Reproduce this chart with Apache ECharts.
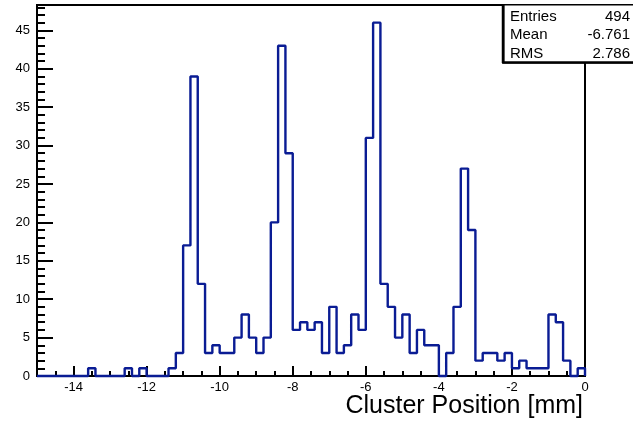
<!DOCTYPE html>
<html>
<head>
<meta charset="utf-8">
<script src="https://cdn.jsdelivr.net/npm/echarts@6/dist/echarts.min.js"></script>
<style>
  html, body { margin: 0; padding: 0; background: #fff; }
</style>
</head>
<body>
<div id="HistChart" style="width: 633px; height: 423px;"></div>
<script>
// histogram: 75 bins of 0.2 mm from -15 to 0
const binLow = -15;
const binWidth = 0.2;
const counts = [
  0, 0, 0, 0, 0, 0, 0, 1, 0, 0,
  0, 0, 1, 0, 1, 0, 0, 0, 1, 3,
  17, 39, 12, 3, 4, 3, 3, 5, 8, 5,
  3, 5, 20, 43, 29, 6, 7, 6, 7, 3,
  9, 3, 4, 8, 6, 31, 46, 12, 9, 5,
  8, 3, 6, 4, 4, 0, 3, 9, 27, 19,
  2, 3, 3, 2, 3, 1, 2, 1, 1, 1,
  8, 7, 2, 0, 1
];
const xTickLabels = [-14, -12, -10, -8, -6, -4, -2, 0];
const yTickLabels = [0, 5, 10, 15, 20, 25, 30, 35, 40, 45];
const statNames = ['Entries', 'Mean', 'RMS'];
const statValues = ['494', '-6.761', '2.786'];

const FONT = 'Liberation Sans';
const plotBox = { left: 37, right: 48, top: 5, bottom: 47 };

// bin left edges with their counts, closed at the upper edge
const stepData = counts.map((c, i) => [+(binLow + i * binWidth).toFixed(2), c]);
stepData.push([0, counts[counts.length - 1]]);
stepData.push([0, 0]);

const chart = echarts.init(document.getElementById('HistChart'));

const statTexts = [];
statNames.forEach((name, i) => {
  statTexts.push({
    type: 'text', left: 510, top: 9 + i * 18.5, z: 110,
    style: { text: name, font: '15px ' + FONT, fill: '#000' }
  });
  statTexts.push({
    type: 'text', right: 3, top: 9 + i * 18.5, z: 110,
    style: { text: statValues[i], font: '15px ' + FONT, fill: '#000', align: 'right' }
  });
});

const option = {
  animation: false,
  grid: [
    Object.assign({ show: true, borderColor: '#000', borderWidth: 2, backgroundColor: '#fff' }, plotBox),
    Object.assign({ show: false }, plotBox)   // only carries the minor ticks
  ],
  title: {
    text: 'Cluster Position [mm]',
    right: 45, top: 389,
    textStyle: { fontFamily: FONT, fontSize: 25, fontWeight: 'normal', color: '#000' }
  },
  xAxis: [
    {
      type: 'value', min: -15, max: 0, gridIndex: 0,
      axisLine: { show: true, onZero: false, lineStyle: { color: '#000', width: 2 } },
      axisTick: { show: true, inside: true, length: 10, customValues: xTickLabels,
        lineStyle: { color: '#000', width: 2 } },
      axisLabel: { customValues: xTickLabels, color: '#000', fontFamily: FONT, fontSize: 13, margin: 5 },
      splitLine: { show: false }
    },
    {
      type: 'value', min: -15, max: 0, interval: 0.5, gridIndex: 1, position: 'bottom',
      axisLine: { show: false, onZero: false },
      axisTick: { show: true, inside: true, length: 5, lineStyle: { color: '#000', width: 2 } },
      axisLabel: { show: false },
      splitLine: { show: false }
    }
  ],
  yAxis: [
    {
      type: 'value', min: 0, max: 48.3, gridIndex: 0,
      axisLine: { show: true, onZero: false, lineStyle: { color: '#000', width: 2 } },
      axisTick: { show: true, inside: true, length: 16, customValues: yTickLabels,
        lineStyle: { color: '#000', width: 2 } },
      axisLabel: { customValues: yTickLabels, color: '#000', fontFamily: FONT, fontSize: 13, margin: 7 },
      splitLine: { show: false }
    },
    {
      type: 'value', min: 0, max: 48.3, interval: 1, gridIndex: 1, position: 'left',
      axisLine: { show: false, onZero: false },
      axisTick: { show: true, inside: true, length: 8, lineStyle: { color: '#000', width: 2 } },
      axisLabel: { show: false },
      splitLine: { show: false }
    }
  ],
  series: [
    {
      name: 'Cluster Position',
      type: 'line',
      step: 'end',
      symbol: 'none',
      clip: false,
      xAxisIndex: 0,
      yAxisIndex: 0,
      lineStyle: { color: '#0a1c94', width: 2.4 },
      data: stepData
    }
  ],
  graphic: [
    {
      type: 'rect', left: 503, top: 4, z: 100,
      shape: { width: 140, height: 58 },
      style: { fill: '#fff', stroke: '#000', lineWidth: 1.5 }
    },
    {
      type: 'line', z: 101,
      shape: { x1: 503, y1: 4, x2: 503, y2: 63 },
      style: { stroke: '#000', lineWidth: 2.5 }
    },
    {
      type: 'line', z: 101,
      shape: { x1: 502, y1: 62.5, x2: 640, y2: 62.5 },
      style: { stroke: '#000', lineWidth: 2.5 }
    },
    ...statTexts
  ]
};

chart.setOption(option);
</script>
</body>
</html>
